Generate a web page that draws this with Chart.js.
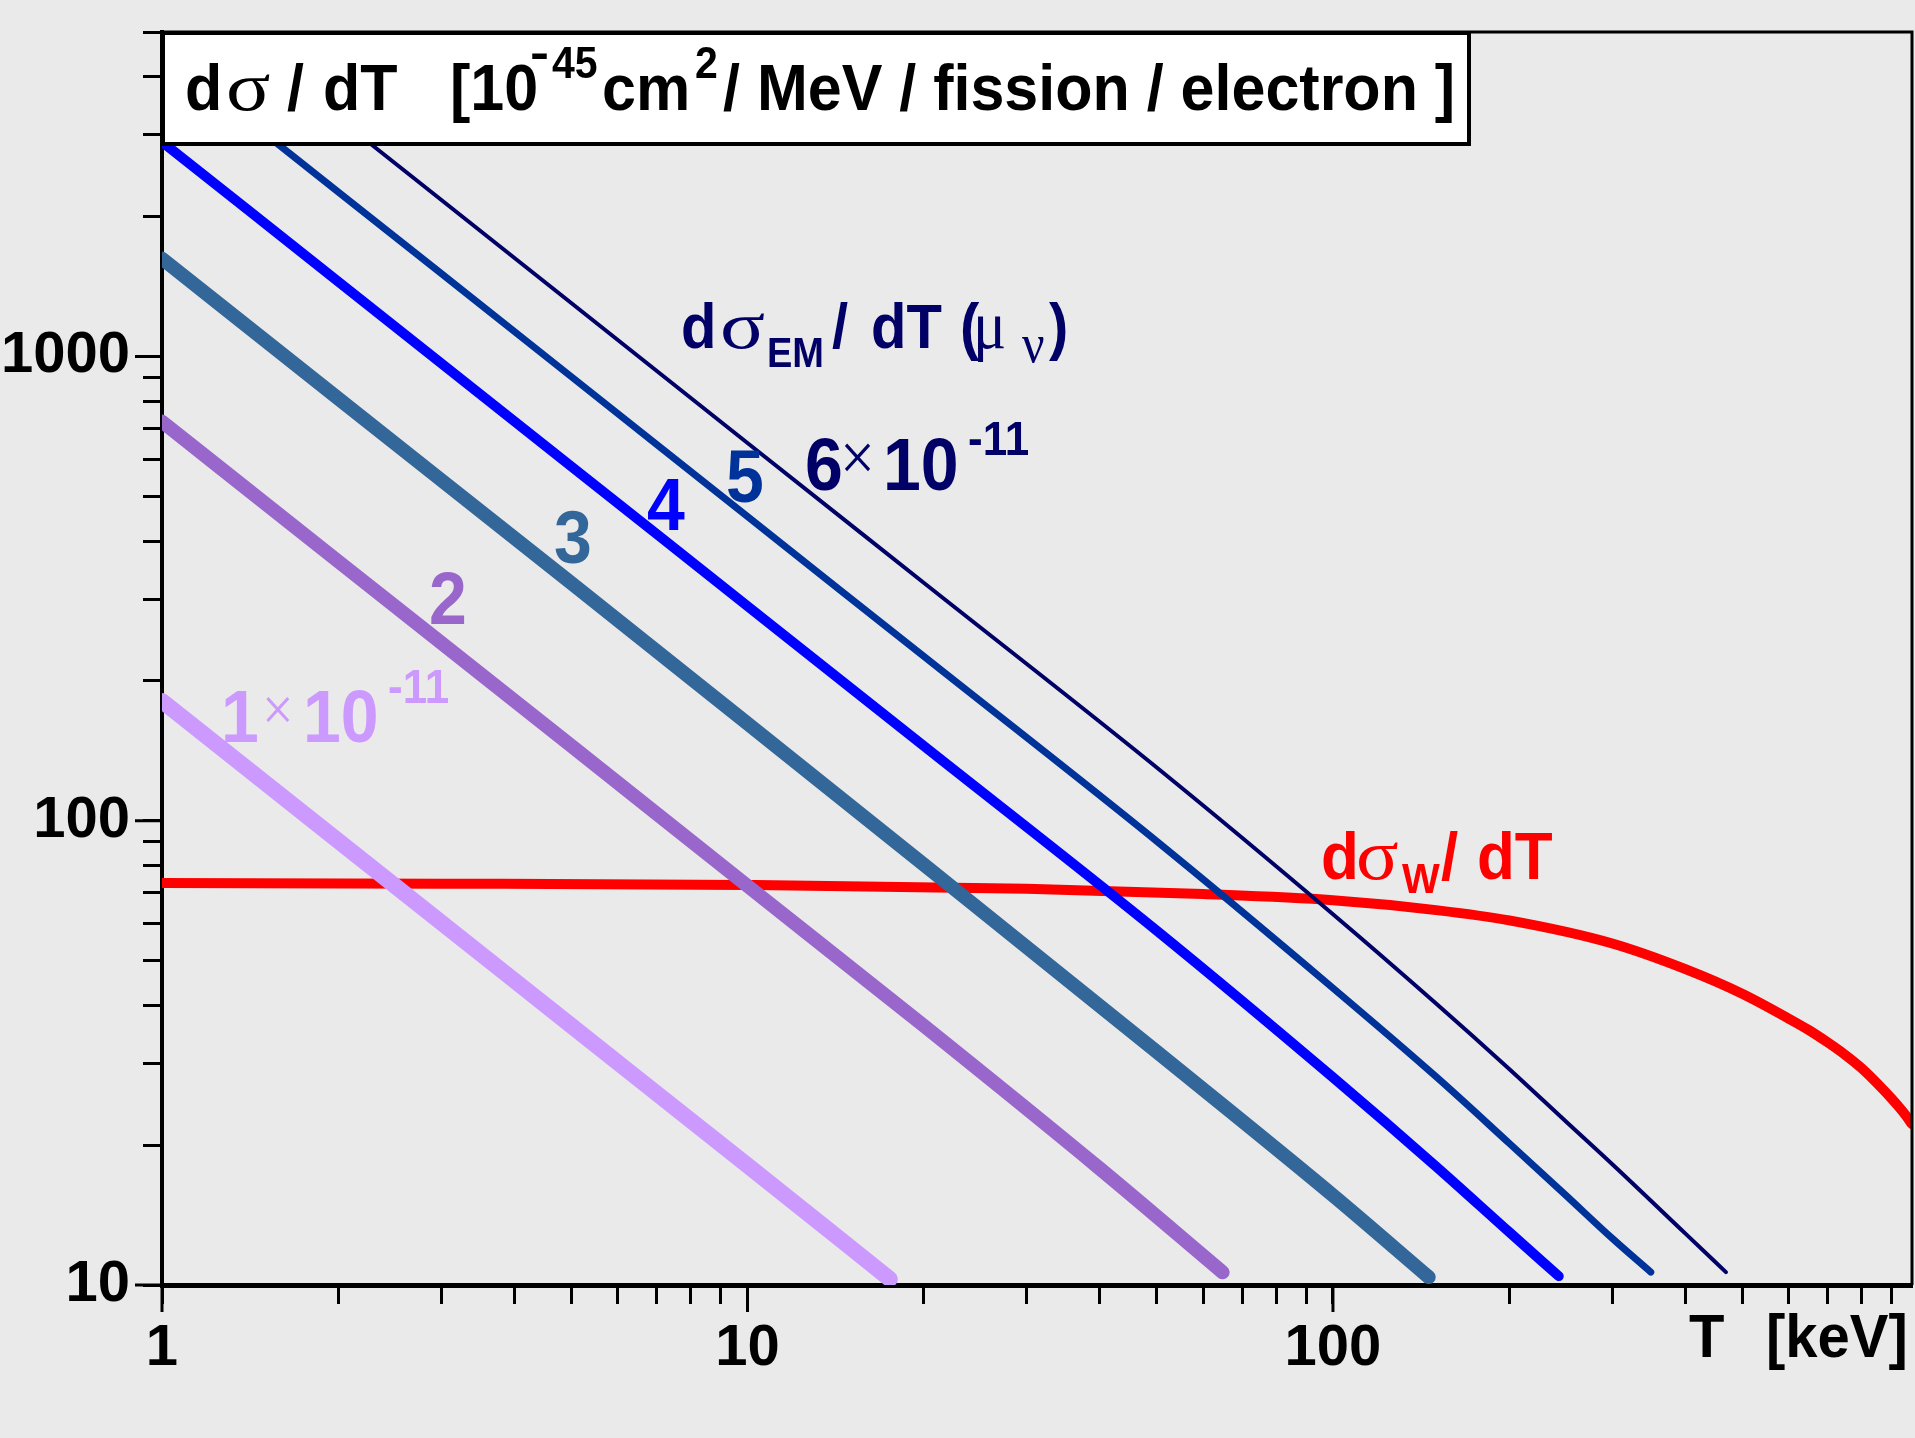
<!DOCTYPE html>
<html>
<head>
<meta charset="utf-8">
<script src="https://cdn.jsdelivr.net/npm/chart.js@4"></script>
<style>
  html, body { margin: 0; padding: 0; background: #EAEAEA; overflow: hidden; }
  #c { display: block; }
</style>
</head>
<body>
<canvas id="c" width="1915" height="1438"></canvas>
<script>
// ---- data (T in keV, dσ/dT in 1e-45 cm^2/MeV/fission/electron) ----
const T_mu1 = [1, 2, 5, 10, 17.5];
const V_mu1 = [181, 90.5, 36.2, 18.1, 10.3];
const T_mu2 = [1, 2, 5, 10, 20, 40, 64.8];
const V_mu2 = [724, 362, 145, 72.4, 36.2, 17.8, 10.65];
const T_mu3 = [1, 2, 5, 10, 20, 50, 100, 145.7];
const V_mu3 = [1625, 812, 325, 162, 80.5, 31.8, 15.6, 10.4];
const T_mu4 = [1, 2, 5, 10, 20, 50, 100, 150, 200, 243];
const V_mu4 = [2900, 1450, 580, 290, 145, 58.0, 28.0, 18.0, 13.0, 10.45];
const T_mu5 = [1, 2, 5, 10, 20, 50, 100, 150, 200, 250, 300, 349];
const V_mu5 = [4525, 2262, 905, 452, 226, 90.3, 43.6, 28.1, 20.2, 15.6, 12.6, 10.66];
const T_mu6 = [1, 2, 5, 10, 20, 50, 100, 150, 200, 250, 300, 400, 469];
const V_mu6 = [6520, 3260, 1304, 651, 325.5, 130.2, 62.9, 40.4, 29.2, 22.5, 18.2, 12.9, 10.66];
const T_weak = [1, 3, 10, 30, 60, 100, 150, 200, 300, 400, 500, 600, 650, 700, 750, 800, 850, 900, 950, 975];
const V_weak = [73.4, 73.2, 72.7, 71.4, 69.5, 67.4, 64.2, 61.0, 54.4, 47.9, 42.4, 37.5, 35.4, 33.3, 31.3, 29.3, 27.2, 25.2, 23.25, 22.2];

// ---- axis ticks ----
const xTicks = [1,2,3,4,5,6,7,8,9,10,20,30,40,50,60,70,80,90,100,200,300,400,500,600,700,800,900];
const xLabels = [1, 10, 100];
const yTicks = [10,20,30,40,50,60,70,80,90,100,200,300,400,500,600,700,800,900,1000,2000,3000,4000,5000];
const yLabels = [10, 100, 1000];

const SANS = '"Liberation Sans", Arial, Helvetica, sans-serif';
const SERIF = '"Liberation Serif", "Times New Roman", serif';
const B = n => `bold ${n}px ${SANS}`;
const S = n => `${n}px ${SERIF}`;

const mk = (T, V) => T.map((t, i) => ({ x: t, y: V[i] }));

const datasets = [
  { label: 'mu1', data: mk(T_mu1, V_mu1), borderColor: '#CC99FF', borderWidth: 16 },
  { label: 'mu2', data: mk(T_mu2, V_mu2), borderColor: '#9966CC', borderWidth: 14 },
  { label: 'mu3', data: mk(T_mu3, V_mu3), borderColor: '#336699', borderWidth: 14 },
  { label: 'mu4', data: mk(T_mu4, V_mu4), borderColor: '#0000FF', borderWidth: 10 },
  { label: 'mu5', data: mk(T_mu5, V_mu5), borderColor: '#003399', borderWidth: 7 },
  { label: 'mu6', data: mk(T_mu6, V_mu6), borderColor: '#000066', borderWidth: 4 },
  { label: 'weak', data: mk(T_weak, V_weak), borderColor: '#FF0000', borderWidth: 10 }
];
datasets.forEach(d => Object.assign(d, {
  pointRadius: 0, fill: false, cubicInterpolationMode: 'monotone',
  borderCapStyle: 'round', borderJoinStyle: 'round'
}));

function drawSegs(ctx, baseY, segs, color, sy) {
  sy = sy || 1;
  ctx.save();
  ctx.fillStyle = color;
  ctx.textAlign = 'left';
  ctx.textBaseline = 'alphabetic';
  for (const s of segs) {
    ctx.save();
    ctx.translate(s.x, baseY + (s.dy || 0));
    ctx.scale(s.sx || 1, sy);
    ctx.font = s.f;
    ctx.fillText(s.t, 0, 0);
    ctx.restore();
  }
  ctx.restore();
}

const decor = {
  id: 'decor',
  afterDraw(chart) {
    const ctx = chart.ctx, a = chart.chartArea;
    const xs = chart.scales.x, ys = chart.scales.y;
    ctx.save();
    // frame top & right
    ctx.strokeStyle = '#000';
    ctx.lineWidth = 3;
    ctx.beginPath();
    ctx.moveTo(a.left, a.top); ctx.lineTo(a.right, a.top); ctx.lineTo(a.right, a.bottom);
    ctx.stroke();
    // longer major ticks
    xLabels.forEach(v => {
      const px = xs.getPixelForValue(v);
      ctx.beginPath(); ctx.moveTo(px, a.bottom); ctx.lineTo(px, a.bottom + 27); ctx.stroke();
    });
    yLabels.forEach(v => {
      const py = ys.getPixelForValue(v);
      ctx.beginPath(); ctx.moveTo(a.left, py); ctx.lineTo(a.left - 27, py); ctx.stroke();
    });
    // title box
    ctx.fillStyle = '#FFFFFF';
    ctx.fillRect(163, 33, 1306, 111);
    ctx.lineWidth = 4;
    ctx.strokeStyle = '#000';
    ctx.strokeRect(163, 33, 1306, 111);
    ctx.restore();

    // title text
    drawSegs(ctx, 110, [
      { t: 'd', x: 185, f: B(61) },
      { t: 'σ', x: 226, f: S(66), sx: 1.25 },
      { t: '/', x: 287, f: B(61) },
      { t: 'dT', x: 323, f: B(61) },
      { t: '[10', x: 450, f: B(61) },
      { t: '-', x: 530, f: B(44), dy: -42, sx: 1.3 },
      { t: '45', x: 552, f: B(41), dy: -32 },
      { t: 'cm', x: 602, f: B(61) },
      { t: '2', x: 695, f: B(41), dy: -32 },
      { t: '/ MeV / fission / electron ]', x: 723, f: B(61) }
    ], '#000', 1.06);

    // EM label
    drawSegs(ctx, 348, [
      { t: 'd', x: 681, f: B(58) },
      { t: 'σ', x: 720, f: S(62), sx: 1.35 },
      { t: 'EM', x: 767, f: B(38), dy: 19 },
      { t: '/', x: 832, f: B(58) },
      { t: 'dT', x: 871, f: B(58) },
      { t: '(', x: 960, f: B(58) },
      { t: 'μ', x: 973, f: S(62) },
      { t: 'ν', x: 1022, f: S(50), dy: 14 },
      { t: ')', x: 1049, f: B(58) }
    ], '#000066', 1.1);

    // curve labels
    drawSegs(ctx, 490, [
      { t: '6', x: 805, f: B(68) },
      { t: '×', x: 840, f: S(62), dy: -10 },
      { t: '10', x: 883, f: B(68) },
      { t: '-11', x: 968, f: B(44), dy: -35 }
    ], '#000066', 1.1);
    drawSegs(ctx, 502, [{ t: '5', x: 726, f: B(68) }], '#003399', 1.1);
    drawSegs(ctx, 530, [{ t: '4', x: 647, f: B(68) }], '#0000FF', 1.1);
    drawSegs(ctx, 563, [{ t: '3', x: 554, f: B(68) }], '#336699', 1.1);
    drawSegs(ctx, 624, [{ t: '2', x: 429, f: B(68) }], '#9966CC', 1.1);
    drawSegs(ctx, 742, [
      { t: '1', x: 221, f: B(68) },
      { t: '×', x: 262, f: S(56), dy: -12 },
      { t: '10', x: 303, f: B(68) },
      { t: '-11', x: 388, f: B(44), dy: -39 }
    ], '#CC99FF', 1.1);

    // weak label
    drawSegs(ctx, 879, [
      { t: 'd', x: 1321, f: B(62) },
      { t: 'σ', x: 1356, f: S(66), sx: 1.2 },
      { t: 'W', x: 1402, f: B(40), dy: 14 },
      { t: '/', x: 1441, f: B(62) },
      { t: 'dT', x: 1477, f: B(62) }
    ], '#FF0000', 1.08);

    // x axis title
    drawSegs(ctx, 1357, [
      { t: 'T', x: 1689, f: B(58) },
      { t: '[keV]', x: 1766, f: B(58) }
    ], '#000', 1.05);
  }
};

new Chart(document.getElementById('c'), {
  type: 'line',
  data: { datasets },
  options: {
    responsive: false,
    animation: false,
    devicePixelRatio: 1,
    layout: { padding: { top: 32, right: 3, left: 0, bottom: 0 } },
    plugins: { legend: { display: false }, tooltip: { enabled: false }, title: { display: false } },
    scales: {
      x: {
        type: 'logarithmic', min: 1, max: 975, position: 'bottom',
        afterBuildTicks: s => { s.ticks = xTicks.map(v => ({ value: v })); },
        afterFit: s => { s.height = 153; s.paddingLeft = 0; s.paddingRight = 0; },
        ticks: {
          autoSkip: false, maxRotation: 0, minRotation: 0, padding: 10, color: '#000',
          font: { family: SANS, size: 58, weight: 'bold' },
          callback: v => xLabels.includes(v) ? String(v) : ''
        },
        grid: { drawOnChartArea: false, drawTicks: true, tickLength: 19, tickWidth: 3, tickColor: '#000' },
        border: { display: true, color: '#000', width: 5 }
      },
      y: {
        type: 'logarithmic', min: 10, max: 5000, position: 'left',
        afterBuildTicks: s => { s.ticks = yTicks.map(v => ({ value: v })); },
        afterFit: s => { s.width = 162; s.paddingTop = 0; s.paddingBottom = 0; },
        ticks: {
          autoSkip: false, padding: 13, color: '#000',
          font: { family: SANS, size: 58, weight: 'bold' },
          callback: v => yLabels.includes(v) ? String(v) : ''
        },
        grid: { drawOnChartArea: false, drawTicks: true, tickLength: 19, tickWidth: 3, tickColor: '#000' },
        border: { display: true, color: '#000', width: 4 }
      }
    }
  },
  plugins: [decor]
});
</script>
</body>
</html>
